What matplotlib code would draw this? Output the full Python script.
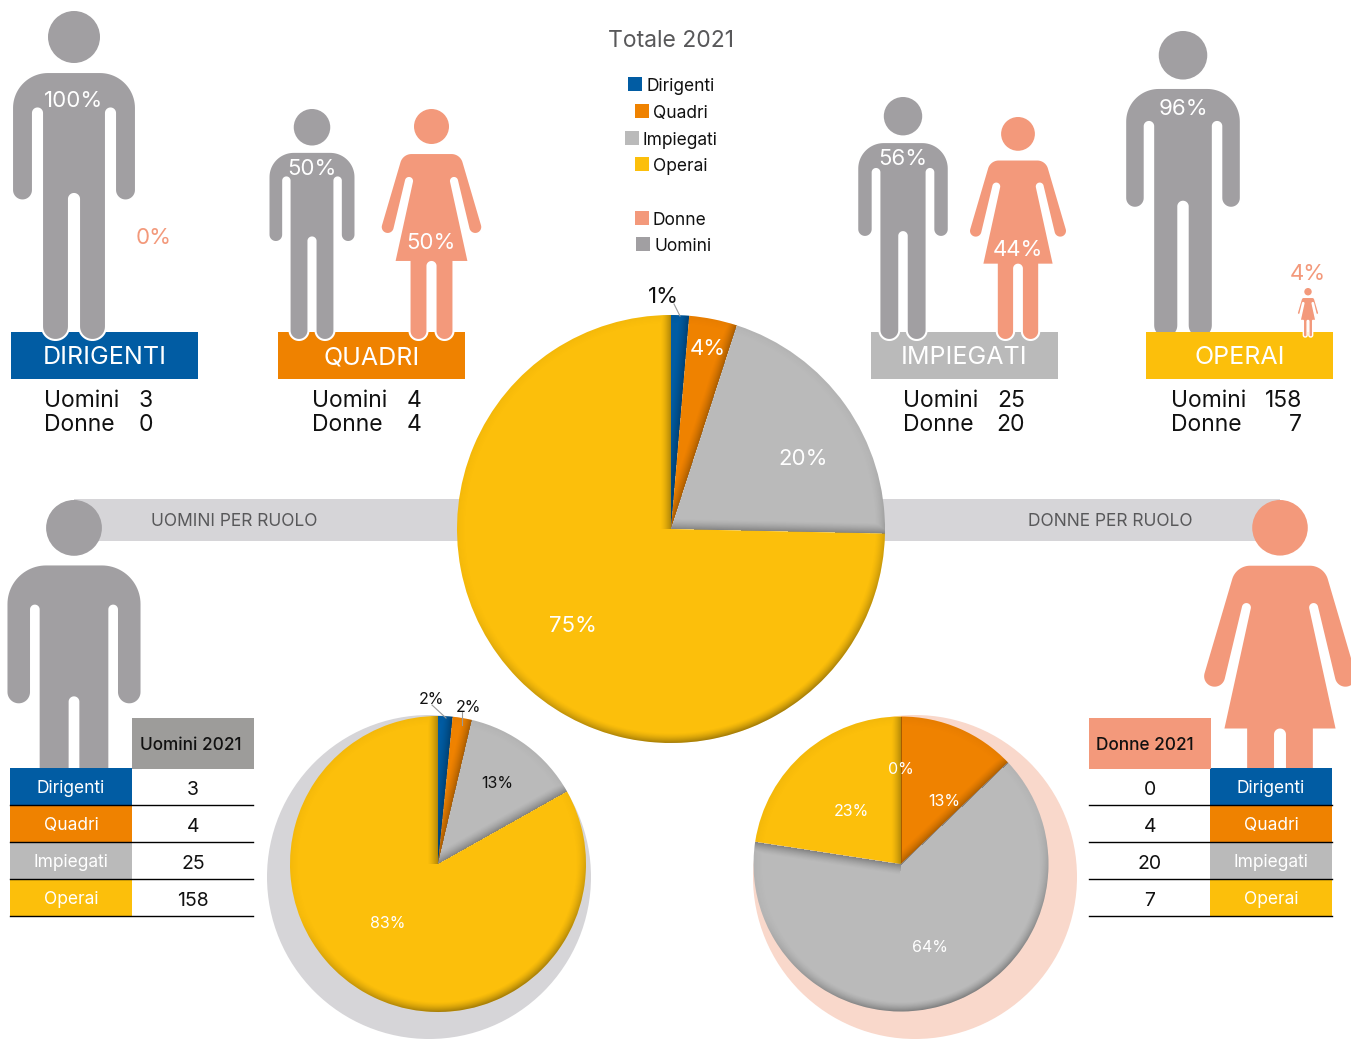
import numpy as np
import matplotlib
matplotlib.use('Agg')
import matplotlib.pyplot as plt
from matplotlib.patches import Circle, Polygon, Rectangle

plt.rcParams['font.family'] = ['Inter', 'DejaVu Sans']

W = 1351
H = 1039

roles = ['Dirigenti', 'Quadri', 'Impiegati', 'Operai']
men = [3, 4, 25, 158]
women = [0, 4, 20, 7]
total = [3, 8, 45, 165]

total_labels = ['1%', '4%', '20%', '75%']
men_labels = ['2%', '2%', '13%', '83%']
women_labels = ['0%', '13%', '64%', '23%']

BLUE = '#015ca3'
ORANGE = '#ef8200'
GREY = '#bababa'
YELLOW = '#fcbf0b'
role_colors = [BLUE, ORANGE, GREY, YELLOW]
SALMON = '#f3997b'
MAN = '#a19fa2'
BAR = '#d6d5d8'
TEXT = '#111111'

fig = plt.figure(figsize=(W / 100, H / 100), dpi=100)
ax = fig.add_axes([0, 0, 1, 1])
ax.set_xlim(0, W)
ax.set_ylim(H, 0)
ax.axis('off')


def arc(cx, cy, r, a0, a1, n=24):
    a = np.radians(np.linspace(a0, a1, n))
    return np.column_stack([cx + r * np.cos(a), cy + r * np.sin(a)])


def draw_shape(half, head_r, unit, x, top, height, color, z, lw):
    k = height / unit
    right = np.array(half) * k
    left = right[::-1] * [-1, 1]
    pts = np.vstack([right, left]) + [x, top]
    ax.add_patch(Polygon(pts, closed=True, fc=color, ec='white', lw=lw, zorder=z))
    ax.add_patch(Circle((x, top + head_r * k), head_r * k, fc=color, ec='none', zorder=z))


def man(x, top, height, z=3, lw=1.5):
    half = np.vstack([
        [[0, 61]],
        arc(26, 97, 36, -90, 0),
        arc(51.5, 179, 10.5, 0, 180),
        arc(36.5, 102, 4.5, 0, -180),
        arc(18.5, 315.5, 13.5, 0, 180),
        arc(0, 188, 5, 0, -90),
    ])
    draw_shape(half, 26, 329, x, top, height, MAN, z, lw)


def woman(x, top, height, z=3, lw=1.5, head=17.5):
    half = np.vstack([
        [[0, 44]],
        arc(20, 56.5, 12.5, -90, -15),
        arc(43.8, 118, 7, -15, 165),
        arc(22.5, 72, 3, -15, -195),
        [[37.2, 153], [22, 153]],
        arc(13, 222, 9, 0, 180),
        arc(0, 157, 4, 0, -90),
    ])
    draw_shape(half, head, 231, x, top, height, SALMON, z, lw)


def shade_pie(pax, values, radius):
    n = int(radius * 2)
    xs = np.linspace(-1, 1, n)
    X, Y = np.meshgrid(xs, xs)
    r = np.hypot(X, Y)
    theta = np.degrees(np.arctan2(X, Y)) % 360
    ends = np.cumsum(values) / np.sum(values) * 360
    idx = np.clip(np.searchsorted(ends, theta), 0, len(ends) - 1)
    gap = np.radians(ends[idx] - theta)
    edge = np.where(gap < np.pi / 2, r * np.sin(gap), 2) * radius
    rim = (1 - r) * radius
    # light comes from the upper left, so the rim is darker lower right
    light = np.clip((X * 0.35 - Y * 0.94) / np.maximum(r, 1e-6), 0, 1)
    a_rim = 0.34 * (0.1 + 0.9 * light) * np.clip(1 - rim / 10, 0, 1) ** 1.5
    a_edge = 0.3 * np.clip(1 - edge / 11, 0, 1) ** 1.5
    rgba = np.zeros((n, n, 4))
    rgba[..., 3] = np.maximum(a_rim, a_edge)
    im = pax.imshow(rgba, extent=(-1, 1, -1, 1), origin='lower', aspect='auto',
                    interpolation='bilinear', zorder=5)
    im.set_clip_path(Circle((0, 0), 1, transform=pax.transData))


def draw_pie(values, cx, cy, radius):
    pad = 1.02
    size = radius * pad
    pax = fig.add_axes([(cx - size) / W, 1 - (cy + size) / H, 2 * size / W, 2 * size / H])
    pax.pie(values, colors=role_colors, startangle=90, counterclock=False,
            radius=1, wedgeprops={'linewidth': 0})
    shade_pie(pax, values, radius)
    pax.set_xlim(-pad, pad)
    pax.set_ylim(-pad, pad)
    pax.set_zorder(2)
    return pax


# bars behind the big pie
ax.add_patch(Rectangle((74, 499), 400, 42, fc=BAR, ec='none', zorder=1))
ax.add_patch(Rectangle((870, 499), 410, 42, fc=BAR, ec='none', zorder=1))
ax.text(234, 521.5, 'UOMINI PER RUOLO', fontsize=12.5, color='#58585a', ha='center', va='center')
ax.text(1110, 521.5, 'DONNE PER RUOLO', fontsize=12.5, color='#58585a', ha='center', va='center')

# shadow discs of the small pies
ax.add_patch(Circle((429, 877), 162, fc=BAR, ec='none', zorder=1))
ax.add_patch(Circle((915, 877), 162, fc='#f9d8cb', ec='none', zorder=1))

# bands with counts
band_x = [11, 278, 871, 1146]
name_x = [44, 312, 903, 1171]
num_x = [153, 422, 1025, 1302]
for i in range(4):
    ax.add_patch(Rectangle((band_x[i], 332), 187, 47, fc=role_colors[i], ec='none', zorder=2))
    ax.text(band_x[i] + 93.5, 358, roles[i].upper(), fontsize=18, color='white',
            ha='center', va='center', zorder=6)
    ax.text(name_x[i], 401, 'Uomini', fontsize=16.5, color=TEXT, va='center')
    ax.text(name_x[i], 425, 'Donne', fontsize=16.5, color=TEXT, va='center')
    ax.text(num_x[i], 401, str(men[i]), fontsize=16.5, color=TEXT, ha='right', va='center')
    ax.text(num_x[i], 425, str(women[i]), fontsize=16.5, color=TEXT, ha='right', va='center')

# people on the bands
man(74, 11, 329)
man(312, 109, 231)
woman(431.5, 109, 231)
man(903, 97, 243)
woman(1018, 117, 223)
man(1183, 31, 307, z=1.5)
woman(1308, 288, 49, lw=1)

person_text = [(74, 101, '100%', 'white'), (154, 238, '0%', SALMON),
               (312, 169, '50%', 'white'), (431, 243, '50%', 'white'),
               (903, 159, '56%', 'white'), (1018, 250, '44%', 'white'),
               (1183, 109, '96%', 'white'), (1308, 274, '4%', SALMON)]
for x, y, s, c in person_text:
    ax.text(x, y, s, fontsize=16, color=c, ha='center', va='center', zorder=6)

# title and legend
ax.text(671, 41, 'Totale 2021', fontsize=16.5, color='#58585a', ha='center', va='center')
legend_rows = [(628, 84, 'Dirigenti', BLUE), (635, 111, 'Quadri', ORANGE),
               (625, 138, 'Impiegati', GREY), (635, 164, 'Operai', YELLOW),
               (635, 218, 'Donne', SALMON), (636, 244, 'Uomini', MAN)]
for x, y, s, c in legend_rows:
    ax.add_patch(Rectangle((x, y - 7), 14, 14, fc=c, ec='none'))
    ax.text(x + 18, y + 2.5, s, fontsize=12.5, color=TEXT, va='center')

# big figures behind the tables
man(74, 500, 353, z=1.5, lw=0)
woman(1280, 500, 345, z=1.5, lw=0, head=18.6)

# tables
row_y = [768, 805, 842, 879, 916]
for table_x, cat_x, val_x, vals in [(10, 10, 193, men), (1089, 1210, 1150, women)]:
    for i in range(4):
        ax.add_patch(Rectangle((cat_x, row_y[i]), 122, row_y[i + 1] - row_y[i],
                               fc=role_colors[i], ec='none', zorder=3))
        ax.text(cat_x + 61, (row_y[i] + row_y[i + 1]) / 2 + 2, roles[i], fontsize=12.5,
                color='white', ha='center', va='center', zorder=6)
        ax.text(val_x, (row_y[i] + row_y[i + 1]) / 2 + 3.5, str(vals[i]), fontsize=14,
                color=TEXT, ha='center', va='center', zorder=6)
        ax.plot([table_x, table_x + 243], [row_y[i + 1]] * 2, color='black', lw=1, zorder=5)
ax.add_patch(Rectangle((132, 718), 122, 51, fc='#9d9c9a', ec='none', zorder=3))
ax.text(191, 745.5, 'Uomini 2021', fontsize=12.4, color=TEXT, ha='center', va='center',
        fontweight='medium', zorder=6)
ax.add_patch(Rectangle((1089, 718), 122, 51, fc=SALMON, ec='none', zorder=3))
ax.text(1145, 745.5, 'Donne 2021', fontsize=12.4, color=TEXT, ha='center', va='center',
        fontweight='medium', zorder=6)

# pies
draw_pie(total, 671, 529, 214)
draw_pie(men, 438, 864, 148)
draw_pie(women, 901, 864, 147.5)

# labels go on an overlay above the pie axes
top = fig.add_axes([0, 0, 1, 1])
top.set_xlim(0, W)
top.set_ylim(H, 0)
top.axis('off')
top.patch.set_alpha(0)
top.set_zorder(3)

top.plot([674, 680], [304, 316], color='#9a9a9a', lw=0.8)
top.plot([432, 446], [705, 718], color='#9a9a9a', lw=0.8)
top.plot([461.5, 461.5], [711, 725], color='#9a9a9a', lw=0.8)

top.text(663, 297, total_labels[0], fontsize=16, color=TEXT, ha='center', va='center')
top.text(708, 349, total_labels[1], fontsize=16, color='white', ha='center', va='center')
top.text(803, 459, total_labels[2], fontsize=16, color='white', ha='center', va='center')
top.text(573, 626, total_labels[3], fontsize=16, color='white', ha='center', va='center')

top.text(431, 700, men_labels[0], fontsize=11.5, color=TEXT, ha='center', va='center')
top.text(468, 707, men_labels[1], fontsize=11.5, color=TEXT, ha='center', va='center')
top.text(497, 783, men_labels[2], fontsize=11.5, color=TEXT, ha='center', va='center')
top.text(388, 924, men_labels[3], fontsize=11.5, color='white', ha='center', va='center')

top.text(901, 770, women_labels[0], fontsize=11.5, color='white', ha='center', va='center')
top.text(944, 801, women_labels[1], fontsize=11.5, color='white', ha='center', va='center')
top.text(930, 947, women_labels[2], fontsize=11.5, color='white', ha='center', va='center')
top.text(851, 812, women_labels[3], fontsize=11.5, color='white', ha='center', va='center')

fig.savefig('out.png', dpi=100)
